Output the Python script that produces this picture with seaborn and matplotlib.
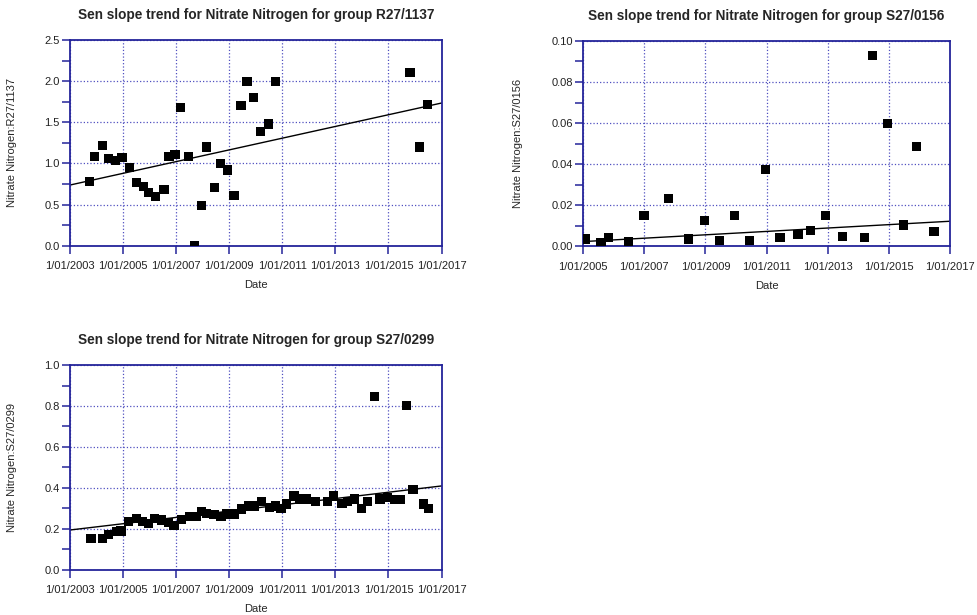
import pandas as pd
import matplotlib.pyplot as plt
import matplotlib.dates as mdates
import seaborn as sns
from matplotlib.ticker import MultipleLocator, FormatStrFormatter, FuncFormatter

sns.set_style('white')
plt.rcParams['font.family'] = ['Liberation Sans', 'DejaVu Sans']

# group R27/1137 (decimal years, mg/L)
r27_year = [2003.74, 2003.93, 2004.22, 2004.44, 2004.73, 2004.96, 2005.24, 2005.51,
            2005.76, 2005.96, 2006.22, 2006.54, 2006.73, 2006.96, 2007.16, 2007.48,
            2007.70, 2007.96, 2008.15, 2008.46, 2008.67, 2008.93, 2009.18, 2009.44,
            2009.67, 2009.92, 2010.19, 2010.47, 2010.74, 2015.81, 2016.17, 2016.47]
r27_value = [0.78, 1.08, 1.22, 1.06, 1.04, 1.07, 0.95, 0.77,
             0.72, 0.65, 0.60, 0.68, 1.08, 1.11, 1.68, 1.08,
             0.0, 0.49, 1.20, 0.71, 1.00, 0.92, 0.61, 1.70,
             2.00, 1.80, 1.39, 1.48, 2.00, 2.10, 1.20, 1.72]
r27_trend_year = [2003.0, 2017.0]
r27_trend = [0.737, 1.734]

# group S27/0156
s0156_year = [2005.08, 2005.58, 2005.82, 2006.48, 2006.99, 2007.80, 2008.44, 2008.97,
              2009.45, 2009.95, 2010.45, 2010.96, 2011.44, 2012.03, 2012.45, 2012.94,
              2013.48, 2014.20, 2014.46, 2014.96, 2015.47, 2015.91, 2016.48]
s0156_value = [0.0036, 0.0019, 0.0044, 0.0023, 0.0149, 0.0231, 0.0036, 0.0127,
               0.0028, 0.0149, 0.0028, 0.0373, 0.0044, 0.0058, 0.0078, 0.0149,
               0.0049, 0.0044, 0.0930, 0.0599, 0.0104, 0.0487, 0.0073]
s0156_trend_year = [2005.0, 2017.0]
s0156_trend = [0.0023, 0.0122]

# group S27/0299
s0299_year = [2003.79, 2004.23, 2004.44, 2004.76, 2004.92, 2005.20, 2005.51, 2005.74,
              2005.95, 2006.19, 2006.45, 2006.71, 2006.92, 2007.21, 2007.50, 2007.77,
              2007.96, 2008.15, 2008.43, 2008.69, 2008.90, 2009.18, 2009.47, 2009.72,
              2009.95, 2010.21, 2010.51, 2010.73, 2010.95, 2011.17, 2011.44, 2011.67,
              2011.92, 2012.26, 2012.71, 2012.94, 2013.25, 2013.45, 2013.72, 2013.97,
              2014.21, 2014.47, 2014.68, 2014.97, 2015.22, 2015.46, 2015.69, 2015.92,
              2016.32, 2016.51]
s0299_value = [0.154, 0.154, 0.174, 0.187, 0.190, 0.237, 0.252, 0.236,
               0.228, 0.252, 0.244, 0.231, 0.218, 0.247, 0.262, 0.260,
               0.285, 0.275, 0.272, 0.262, 0.273, 0.273, 0.298, 0.312,
               0.312, 0.333, 0.304, 0.312, 0.301, 0.322, 0.361, 0.346,
               0.346, 0.333, 0.333, 0.361, 0.325, 0.333, 0.346, 0.301,
               0.333, 0.846, 0.346, 0.353, 0.345, 0.345, 0.802, 0.393,
               0.322, 0.301]
s0299_trend_year = [2003.0, 2017.0]
s0299_trend = [0.195, 0.410]


def to_date(years):
    return [pd.Timestamp(year=int(y), month=1, day=1) + pd.Timedelta(days=(y % 1) * 365.25)
            for y in years]


def date_label(x, pos):
    d = mdates.num2date(x)
    return f'{d.day}/{d.month:02d}/{d.year}'


navy = '#24249a'
grid_col = '#5050c0'


def panel(ax, years, values, tyears, tvals, group, x0, x1, ymax, ystep, yfmt):
    df = pd.DataFrame({'Date': to_date(years), 'val': values})
    tr = pd.DataFrame({'Date': to_date(tyears), 'val': tvals})
    sns.lineplot(x='Date', y='val', data=tr, color='black', linewidth=1.0, ax=ax)
    sns.scatterplot(x='Date', y='val', data=df, marker='s', s=44, color='black',
                    edgecolor='none', ax=ax, zorder=3)
    ax.set_xlim(pd.Timestamp(f'{x0}-01-01'), pd.Timestamp(f'{x1}-01-01'))
    ax.set_ylim(0, ymax)
    ax.set_xticks([pd.Timestamp(f'{y}-01-01') for y in range(x0, x1 + 1, 2)])
    ax.xaxis.set_major_formatter(FuncFormatter(date_label))
    ax.yaxis.set_major_locator(MultipleLocator(ystep))
    ax.yaxis.set_minor_locator(MultipleLocator(ystep / 2))
    ax.yaxis.set_major_formatter(FormatStrFormatter(yfmt))
    ax.grid(True, which='major', color=grid_col, linestyle=':', linewidth=0.9)
    for sp in ax.spines.values():
        sp.set_color(navy)
        sp.set_linewidth(1.3)
    ax.tick_params(axis='both', which='both', direction='out', color=navy,
                   bottom=True, left=True, length=5.5, width=1.1,
                   labelsize=8, labelcolor='#222222', pad=2)
    ax.tick_params(axis='x', which='major', pad=5.5)
    ax.tick_params(axis='x', which='minor', bottom=False)
    ax.set_title(f'Sen slope trend for Nitrate Nitrogen for group {group}',
                 fontsize=9.8, fontweight='bold', pad=15)
    ax.set_xlabel('Date', fontsize=8, labelpad=6.5)
    ax.set_ylabel(f'Nitrate Nitrogen:{group}', fontsize=8)
    ax.set_axisbelow(True)


fig = plt.figure(figsize=(9.77, 6.15), dpi=100)
ax1 = fig.add_axes([0.0716, 0.6005, 0.3804, 0.3345])
ax2 = fig.add_axes([0.597, 0.5995, 0.3753, 0.334])
ax3 = fig.add_axes([0.0716, 0.0732, 0.3804, 0.3333])

panel(ax1, r27_year, r27_value, r27_trend_year, r27_trend, 'R27/1137', 2003, 2017, 2.5, 0.5, '%.1f')
panel(ax2, s0156_year, s0156_value, s0156_trend_year, s0156_trend, 'S27/0156', 2005, 2017, 0.10, 0.02, '%.2f')
panel(ax3, s0299_year, s0299_value, s0299_trend_year, s0299_trend, 'S27/0299', 2003, 2017, 1.0, 0.2, '%.1f')

ax1.yaxis.set_label_coords(-0.143, 0.5)
ax2.yaxis.set_label_coords(-0.164, 0.5)
ax3.yaxis.set_label_coords(-0.143, 0.5)

fig.savefig('out.png', dpi=100)
